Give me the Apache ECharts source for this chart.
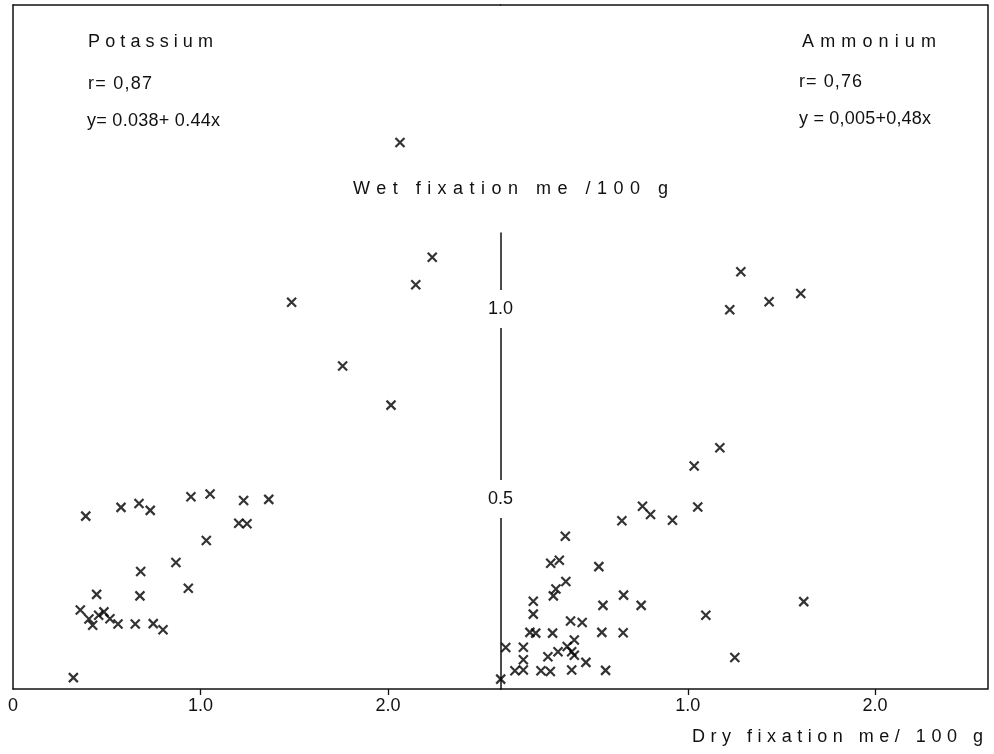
<!DOCTYPE html>
<html>
<head>
<meta charset="utf-8">
<script src="https://cdn.jsdelivr.net/npm/echarts@6/dist/echarts.min.js"></script>
<style>
  html, body { margin: 0; padding: 0; background: #fff; }
  #chart { width: 994px; height: 754px; }
</style>
</head>
<body>
<div id="chart"></div>
<script>
// ---- Data ----
// Potassium: dry fixation (x) vs wet fixation (y), me/100 g
const potassiumX = [0.322, 0.388, 0.576, 0.672, 0.732, 0.949, 1.051, 1.230, 1.364, 1.204, 1.248,
  1.031, 0.869, 0.681, 0.935, 0.446, 0.677, 0.359, 0.405, 0.425, 0.457, 0.485, 0.517, 0.560,
  0.652, 0.748, 0.800, 2.064, 2.236, 2.148, 1.486, 1.758, 2.016];
const potassiumY = [0.030, 0.455, 0.478, 0.488, 0.470, 0.506, 0.513, 0.496, 0.499, 0.436, 0.435,
  0.391, 0.333, 0.309, 0.265, 0.249, 0.245, 0.208, 0.184, 0.168, 0.194, 0.203, 0.185, 0.171,
  0.171, 0.172, 0.156, 1.438, 1.136, 1.064, 1.018, 0.850, 0.747];
// Ammonium
const ammoniumX = [0.001, 0.028, 0.077, 0.122, 0.122, 0.122, 0.175, 0.175, 0.157, 0.188, 0.216,
  0.266, 0.253, 0.278, 0.282, 0.296, 0.349, 0.268, 0.314, 0.346, 0.307, 0.356, 0.380, 0.394,
  0.394, 0.380, 0.374, 0.436, 0.456, 0.525, 0.547, 0.541, 0.561, 0.648, 0.657, 0.655, 0.751,
  0.758, 0.801, 0.918, 1.053, 1.096, 1.251, 1.619, 1.283, 1.224, 1.434, 1.603, 1.171, 1.034];
const ammoniumY = [0.026, 0.109, 0.048, 0.050, 0.077, 0.110, 0.231, 0.197, 0.149, 0.147, 0.048,
  0.046, 0.085, 0.147, 0.245, 0.263, 0.283, 0.331, 0.339, 0.402, 0.098, 0.112, 0.098, 0.129,
  0.089, 0.050, 0.179, 0.175, 0.070, 0.322, 0.220, 0.149, 0.049, 0.443, 0.247, 0.148, 0.220,
  0.481, 0.459, 0.444, 0.479, 0.194, 0.083, 0.230, 1.098, 0.998, 1.019, 1.041, 0.635, 0.587];
// Tick labels
const leftXTicks = [0, 1.0, 2.0];
const rightXTicks = [1.0, 2.0];
const yTicks = [0.5, 1.0];
const xTickText = ['0', '1.0', '2.0'];
const yTickText = ['0.5', '1.0'];
// Texts
const panelTitles = ['Potassium', 'Ammonium'];
const rTexts = ['r= 0,87', 'r= 0,76'];
const eqTexts = ['y= 0.038+ 0.44x', 'y = 0,005+0,48x'];
const yAxisTitle = 'Wet fixation me /100 g';
const xAxisTitle = 'Dry fixation me/ 100 g';

// ---- Layout / style ----
const FONT = '"Liberation Sans", Arial, sans-serif';
const INK = '#111';
const AXW = 1.5;

// letter spacing to match the wide-set lettering of the original
const measureCtx = document.createElement('canvas').getContext('2d');
const spacingMap = {};
function fitSpacing(text, font, target) {
  measureCtx.font = font;
  const w = measureCtx.measureText(text).width;
  spacingMap[text] = Math.max(0, (target - w) / (text.length - 1));
}
const origFill = CanvasRenderingContext2D.prototype.fillText;
CanvasRenderingContext2D.prototype.fillText = function (t, x, y, mw) {
  const ls = spacingMap[t];
  const has = 'letterSpacing' in this;
  if (has) this.letterSpacing = (ls != null ? ls.toFixed(2) : '0') + 'px';
  if (mw === undefined) origFill.call(this, t, x, y); else origFill.call(this, t, x, y, mw);
  if (has) this.letterSpacing = '0px';
};

const titleFont = '18px ' + FONT;
const smallFont = '18px ' + FONT;
const texts = [
  { t: panelTitles[0], x: 88, y: 42, font: titleFont, w: 125 },
  { t: rTexts[0], x: 88, y: 84, font: smallFont, w: 64 },
  { t: eqTexts[0], x: 87, y: 121, font: smallFont, w: 133 },
  { t: panelTitles[1], x: 802, y: 42, font: titleFont, w: 134 },
  { t: rTexts[1], x: 799, y: 82, font: smallFont, w: 63 },
  { t: eqTexts[1], x: 799, y: 119, font: smallFont, w: 132 },
  { t: yAxisTitle, x: 353, y: 189, font: titleFont, w: 315 },
  { t: xAxisTitle, x: 692, y: 737, font: titleFont, w: 291 }
];
texts.forEach(d => fitSpacing(d.t, d.font, d.w));

const chart = echarts.init(document.getElementById('chart'), null, { renderer: 'canvas' });

const xMax = 2.6, yMax = 1.8, yMidMax = 1.2;
const lineStyle = { color: INK, width: AXW };
const labelStyle = { color: INK, fontFamily: FONT, fontSize: 18 };
const xFmt = v => xTickText[leftXTicks.indexOf(v)] || '';
const yFmt = v => yTickText[yTicks.indexOf(v)] || '';

const xMark = 'path://M0,0L10,10M10,0L0,10';
const markStyle = { color: 'rgba(0,0,0,0)', borderColor: '#000', borderWidth: 2.2 };

function frameAxis(extra) {
  return Object.assign({
    type: 'value', splitLine: { show: false },
    axisLine: { show: true, onZero: false, lineStyle },
    axisTick: { show: false }, axisLabel: { show: false }
  }, extra);
}

chart.setOption({
  animation: false,
  backgroundColor: '#fff',
  grid: [
    { left: 13, top: 5, width: 487.5, height: 684 },
    { left: 500.5, top: 5, width: 487, height: 684 },
    { left: 500.5, top: 233, width: 20, height: 456 }
  ],
  xAxis: [
    frameAxis({ gridIndex: 0, position: 'bottom', min: 0, max: xMax,
      axisTick: { show: true, customValues: [1, 2], length: 6, lineStyle: { color: INK, width: 1.3 } },
      axisLabel: { show: true, customValues: leftXTicks, formatter: xFmt, margin: 8, ...labelStyle } }),
    frameAxis({ gridIndex: 0, position: 'top', min: 0, max: xMax }),
    frameAxis({ gridIndex: 1, position: 'bottom', min: 0, max: xMax,
      axisTick: { show: true, customValues: [1, 2], length: 6, lineStyle: { color: INK, width: 1.3 } },
      axisLabel: { show: true, customValues: rightXTicks, formatter: xFmt, margin: 8, ...labelStyle } }),
    frameAxis({ gridIndex: 1, position: 'top', min: 0, max: xMax }),
    { type: 'value', gridIndex: 2, show: false, min: 0, max: 1 }
  ],
  yAxis: [
    frameAxis({ gridIndex: 0, position: 'left', min: 0, max: yMax }),
    frameAxis({ gridIndex: 1, position: 'right', min: 0, max: yMax }),
    frameAxis({ gridIndex: 2, position: 'left', min: 0, max: yMidMax,
      axisLabel: { show: true, customValues: yTicks, formatter: yFmt, align: 'center', margin: 0,
        backgroundColor: '#fff', padding: [10, 3], ...labelStyle } })
  ],
  series: [
    { name: 'Potassium', type: 'scatter', xAxisIndex: 0, yAxisIndex: 0,
      symbol: xMark, symbolSize: 9, itemStyle: markStyle,
      data: potassiumX.map((x, i) => [x, potassiumY[i]]) },
    { name: 'Ammonium', type: 'scatter', xAxisIndex: 2, yAxisIndex: 1,
      symbol: xMark, symbolSize: 9, itemStyle: markStyle,
      data: ammoniumX.map((x, i) => [x, ammoniumY[i]]) }
  ],
  graphic: texts.map(d => ({
    type: 'text', x: d.x, y: d.y, silent: true,
    style: { text: d.t, font: d.font, fill: INK, align: 'left', verticalAlign: 'middle' }
  }))
});
</script>
</body>
</html>
